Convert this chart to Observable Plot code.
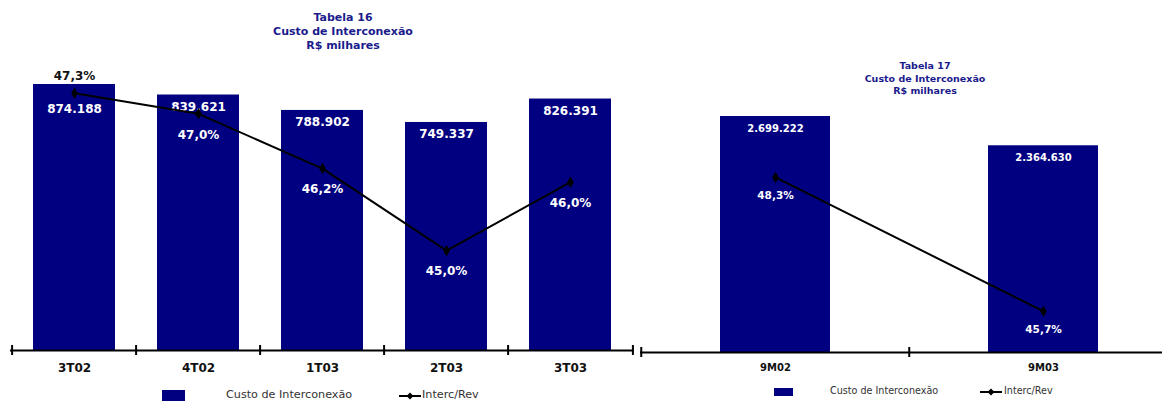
<!DOCTYPE html>
<html><head><meta charset="utf-8">
<script src="https://cdn.jsdelivr.net/npm/d3@7"></script>
<script src="https://cdn.jsdelivr.net/npm/@observablehq/plot@0.6"></script>
<style>
html,body{margin:0;padding:0;background:#fff;overflow:hidden}
#root{position:relative;width:1162px;height:401px;overflow:hidden;font-family:"DejaVu Sans",sans-serif}
.layer{position:absolute;top:0}
.layer svg{background:transparent;max-width:none !important}
.title{position:absolute;text-align:center;color:#1b1b8c;font-weight:bold;white-space:nowrap;transform:translateX(-50%)}
.lg{position:absolute;white-space:nowrap;color:#333}
</style></head>
<body><div id="root"></div>
<script>
// ---- data ----
const quarters = ["3T02", "4T02", "1T03", "2T03", "3T03"];
const quarterCost = [874188, 839621, 788902, 749337, 826391];
const quarterRatio = [47.3, 47.0, 46.2, 45.0, 46.0];
const periods = ["9M02", "9M03"];
const periodCost = [2699222, 2364630];
const periodRatio = [48.3, 45.7];
const leftTitle = ["Tabela 16", "Custo de Interconexão", "R$ milhares"];
const rightTitle = ["Tabela 17", "Custo de Interconexão", "R$ milhares"];
const legendLabels = ["Custo de Interconexão", "Interc/Rev"];

const loc = d3.formatLocale({decimal: ",", thousands: ".", grouping: [3], currency: ["R$", ""]});
const fmtInt = loc.format(",d");
const fmtPct = v => loc.format(",.1f")(v) + "%";

const NAVY = "#000080";
const FONT = "DejaVu Sans";
const root = document.getElementById("root");

function layer(svg, left, width) {
  const d = document.createElement("div");
  d.className = "layer";
  d.style.left = left + "px";
  d.style.width = width + "px";
  d.appendChild(svg);
  root.appendChild(d);
}

function chart(cfg) {
  const rows = cfg.cats.map((c, i) => ({cat: c, cost: cfg.cost[i], ratio: cfg.ratio[i], i}));
  const step = (cfg.width - cfg.ml - cfg.mr) / cfg.cats.length;
  const plotH = cfg.height - cfg.mt - cfg.mb;
  const xOpt = {domain: cfg.cats, paddingInner: cfg.pad, paddingOuter: cfg.pad / 2};
  const common = {
    width: cfg.width, height: cfg.height,
    marginLeft: cfg.ml, marginRight: cfg.mr, marginTop: cfg.mt, marginBottom: cfg.mb,
    style: {fontFamily: FONT, background: "transparent", overflow: "visible", maxWidth: "none"}
  };
  const bars = Plot.plot({
    ...common,
    x: xOpt,
    y: {domain: cfg.yCost, axis: null},
    marks: [
      Plot.barY(rows, {x: "cat", y: "cost", fill: NAVY}),
      Plot.ruleY([0], {stroke: "#000", strokeWidth: 2}),
      Plot.ruleX(rows, {x: "cat", dx: -step / 2, stroke: "#000", strokeWidth: 2, insetTop: plotH - 5, insetBottom: -5}),
      Plot.ruleX(rows.slice(-1), {x: "cat", dx: step / 2, stroke: "#000", strokeWidth: 2, insetTop: plotH - 5, insetBottom: -5}),
      Plot.axisX({tickSize: 0, tickPadding: cfg.axisPad, fontSize: cfg.axisFont, fontWeight: "bold", fill: "#111", label: null}),
      Plot.text(rows.filter(d => cfg.costDy0 != null && d.i === 0), {x: "cat", y: "cost", text: d => fmtInt(d.cost), dy: cfg.costDy0, fill: "#fff", fontSize: cfg.valFont, fontWeight: "bold"}),
      Plot.text(rows.filter(d => cfg.costDy0 == null || d.i !== 0), {x: "cat", y: "cost", text: d => fmtInt(d.cost), dy: cfg.costDy, fill: "#fff", fontSize: cfg.valFont, fontWeight: "bold"})
    ]
  });
  layer(bars, cfg.left, cfg.width);
  const line = Plot.plot({
    ...common,
    x: {...xOpt, axis: null},
    y: {domain: cfg.yRatio, axis: null},
    marks: [
      Plot.line(rows, {x: "cat", y: "ratio", stroke: "#000", strokeWidth: 2}),
      Plot.dot(rows, {x: "cat", y: "ratio", symbol: "diamond", r: 3.5, fill: "#000"}),
      Plot.text(rows.filter(d => cfg.pctAbove0 && d.i === 0), {x: "cat", y: "ratio", text: d => fmtPct(d.ratio), dy: -17, fill: "#111", fontSize: cfg.pctFont, fontWeight: "bold"}),
      Plot.text(rows.filter(d => !(cfg.pctAbove0 && d.i === 0)), {x: "cat", y: "ratio", text: d => fmtPct(d.ratio), dy: cfg.pctDy, fill: "#fff", fontSize: cfg.pctFont, fontWeight: "bold"})
    ]
  });
  layer(line, cfg.left, cfg.width);
}

chart({cats: quarters, cost: quarterCost, ratio: quarterRatio, left: 0, width: 645, height: 401,
  ml: 10, mr: 11, mt: 60, mb: 51, pad: 0.335, yCost: [0, 953000], yRatio: [43.54, 47.78],
  axisPad: 13, axisFont: 12, valFont: 12, pctFont: 12, costDy0: 25, costDy: 12, pctAbove0: true, pctDy: 21});
chart({cats: periods, cost: periodCost, ratio: periodRatio, left: 630, width: 547, height: 401,
  ml: 10, mr: 0, mt: 60, mb: 49, pad: 0.59, yCost: [0, 3340000], yRatio: [44.90, 50.57],
  axisPad: 11, axisFont: 10, valFont: 10, pctFont: 10.5, costDy0: null, costDy: 12, pctAbove0: false, pctDy: 18});

function title(lines, cx, top, size, lh) {
  const d = document.createElement("div");
  d.className = "title";
  d.style.left = cx + "px"; d.style.top = top + "px";
  d.style.fontSize = size + "px"; d.style.lineHeight = lh + "px";
  d.innerHTML = lines.join("<br>");
  root.appendChild(d);
}
title(leftTitle, 343, 11, 11, 14);
title(rightTitle, 925, 60, 9.5, 12.5);

function legend(x, y, sw, swH, textX, symX, text2X, size) {
  const mk = (html, left, top) => { const d = document.createElement("div"); d.className = "lg"; d.style.left = left + "px"; d.style.top = top + "px"; d.style.fontSize = size + "px"; d.style.lineHeight = size + "px"; d.innerHTML = html; root.appendChild(d); return d; };
  const s = document.createElement("div");
  s.style.cssText = `position:absolute;left:${x}px;top:${y}px;width:${sw}px;height:${swH}px;background:${NAVY}`;
  root.appendChild(s);
  const cy = y + swH / 2;
  mk(legendLabels[0], textX, cy - size / 2 - 1);
  const sym = document.createElementNS("http://www.w3.org/2000/svg", "svg");
  sym.setAttribute("width", 22); sym.setAttribute("height", 10);
  sym.style.cssText = `position:absolute;left:${symX}px;top:${cy - 5}px`;
  sym.innerHTML = '<line x1="0" y1="5" x2="22" y2="5" stroke="#000" stroke-width="2"/><path d="M11,1.5L14.5,5L11,8.5L7.5,5Z" fill="#000"/>';
  root.appendChild(sym);
  mk(legendLabels[1], text2X, cy - size / 2 - 1);
}
legend(162, 390, 23, 12, 226, 399, 422, 11.2);
legend(774, 388, 19, 8, 830, 980, 1004, 9.6);
</script></body></html>
